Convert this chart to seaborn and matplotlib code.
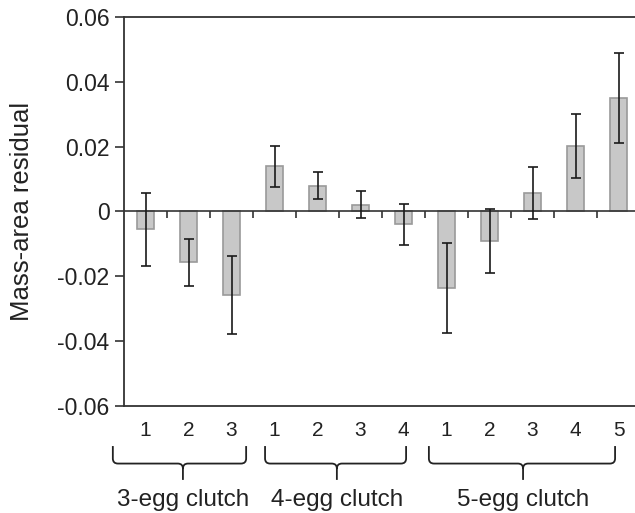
import numpy as np
import pandas as pd
import matplotlib.pyplot as plt
from matplotlib.path import Path
from matplotlib.patches import PathPatch
import matplotlib.transforms as mtransforms
import seaborn as sns

# data
groups = ["3-egg clutch", "4-egg clutch", "5-egg clutch"]
group_sizes = [3, 4, 5]
egg_order = ["1", "2", "3", "1", "2", "3", "4", "1", "2", "3", "4", "5"]
residual = [-0.0055, -0.0157, -0.0258, 0.0140, 0.0080, 0.0021,
            -0.0040, -0.0236, -0.0090, 0.0057, 0.0202, 0.0349]
std_err = [0.0113, 0.0073, 0.0120, 0.0063, 0.0042, 0.0042,
           0.0064, 0.0139, 0.0099, 0.0080, 0.0098, 0.0139]

clutch = [g for g, n in zip(groups, group_sizes) for _ in range(n)]
df = pd.DataFrame({"clutch": clutch, "egg": egg_order,
                   "residual": residual, "se": std_err})
df["bar"] = [f"{c} {e}" for c, e in zip(df["clutch"], df["egg"])]

sns.set_style("white")
plt.rcParams["font.family"] = ["Liberation Sans", "DejaVu Sans"]

fig = plt.figure(figsize=(6.35, 5.13), dpi=100)
ax = fig.add_axes([0.1953, 0.2086, 0.8126, 0.7583])

sns.barplot(data=df, x="bar", y="residual", order=df["bar"], color="#c8c8c8",
            width=0.41, edgecolor="#9a9a9a", linewidth=1.2, saturation=1,
            errorbar=None, ax=ax)
ax.errorbar(np.arange(len(df)), df["residual"], yerr=df["se"], fmt="none",
            ecolor="#1a1a1a", elinewidth=1.2, capsize=3.5, capthick=1.2)

# zero line with small separator ticks between bars
ax.axhline(0, color="#333333", lw=1.2, zorder=1)
ax.vlines(np.arange(len(df) - 1) + 0.5, -0.0019, 0, color="#333333", lw=1.2)

ax.set_xlim(-0.5, len(df) - 0.5)
ax.set_ylim(-0.06, 0.06)
ax.set_yticks(np.arange(-0.06, 0.061, 0.02))
ax.set_yticklabels(["-0.06", "-0.04", "-0.02", "0", "0.02", "0.04", "0.06"])
ax.set_xticks(np.arange(len(df)))
ax.set_xticklabels(df["egg"])
ax.tick_params(axis="y", labelsize=16.5, length=6.5, width=1.2, color="#333333",
               left=True, pad=4, labelcolor="#222222")
ax.tick_params(axis="x", labelsize=15, length=0, pad=11, labelcolor="#222222")
ax.set_xlabel("")
ax.set_ylabel("Mass-area residual", fontsize=18.5, color="#222222", labelpad=17)

for side in ["left", "top", "bottom"]:
    ax.spines[side].set_color("#333333")
    ax.spines[side].set_linewidth(1.3)
ax.spines["right"].set_visible(False)

# braces under the tick labels (x in data units, y in axes fraction)
trans = mtransforms.blended_transform_factory(ax.transData, ax.transAxes)
brace_spans = [(-0.76, 2.34, 0.87), (2.78, 6.06, 4.45), (6.59, 10.92, 8.78)]
y_top, y_mid, y_bot = -0.103, -0.148, -0.19
rx, ry = 0.12, 0.013
for (x0, x1, xc), name in zip(brace_spans, groups):
    verts = [(x0, y_top), (x0, y_mid + ry), (x0, y_mid), (x0 + rx, y_mid),
             (xc - rx, y_mid), (xc, y_mid), (xc, y_mid - ry), (xc, y_bot),
             (x1, y_top), (x1, y_mid + ry), (x1, y_mid), (x1 - rx, y_mid),
             (xc + rx, y_mid), (xc, y_mid), (xc, y_mid - ry)]
    codes = [Path.MOVETO, Path.LINETO, Path.CURVE3, Path.CURVE3,
             Path.LINETO, Path.CURVE3, Path.CURVE3, Path.LINETO,
             Path.MOVETO, Path.LINETO, Path.CURVE3, Path.CURVE3,
             Path.LINETO, Path.CURVE3, Path.CURVE3]
    patch = PathPatch(Path(verts, codes), transform=trans, fill=False,
                      edgecolor="#222222", lw=1.3, clip_on=False)
    ax.add_patch(patch)
    ax.text(xc, -0.241, name, transform=trans, ha="center", va="center",
            fontsize=17.5, color="#222222")

fig.savefig("out.png", dpi=100)
